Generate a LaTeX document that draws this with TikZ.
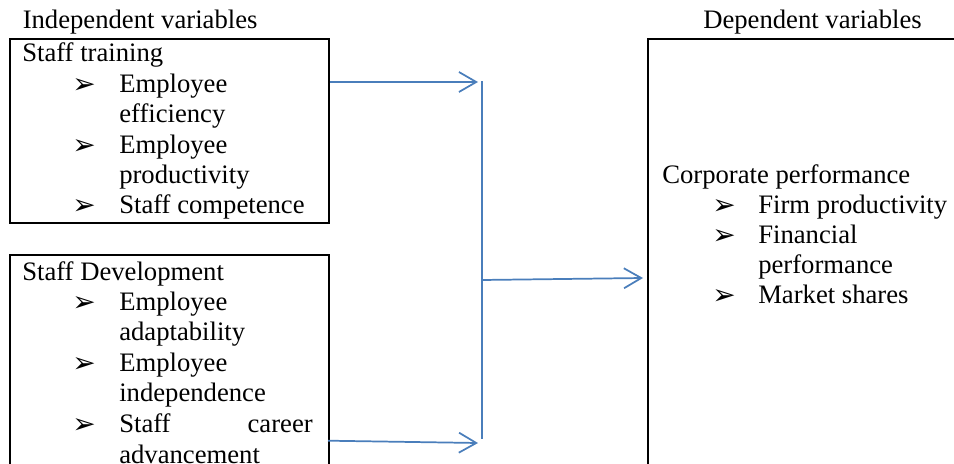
\documentclass[tikz,border=0pt]{standalone}
\usepackage{fontspec}
\setmainfont{Liberation Serif}
\newfontfamily\dingfont{DejaVu Sans}
\usetikzlibrary{arrows.meta}

\begin{document}
\begin{tikzpicture}[
	x=0.75pt, y=-0.75pt,
	caixa/.style={draw, line width=1.5pt, anchor=north west, inner sep=0pt},
	txt/.style={anchor=base west, inner sep=0pt, font=\fontsize{20}{22.5}\selectfont},
	bala/.style={anchor=base west, inner sep=0pt, font=\dingfont\fontsize{21}{21}\selectfont},
	seta/.style={draw={rgb,255:red,74;green,126;blue,187}, line width=1.3pt,
		-{Straight Barb[length=13pt, width=15pt]}},
	linha/.style={draw={rgb,255:red,74;green,126;blue,187}, line width=1.5pt}
	]
	\useasboundingbox (0,0) rectangle (954,464);
	\clip (0,0) rectangle (954,464);

	% titulos
	\node[txt] (indep) at (22.5,28.5) {Independent variables};
	\node[txt] (dep) at (703,28.5) {Dependent variables};

	% caixas
	\node[caixa, minimum width=239.25pt, minimum height=138.3pt] (treino) at (9,37.5) {};
	\node[caixa, minimum width=239.25pt, minimum height=180pt] (desenv) at (9,254) {};
	\node[caixa, minimum width=245pt, minimum height=335pt] (desemp) at (647,37.5) {};

	% Staff training
	\node[txt] (t0) at (22,61.7) {Staff training};
	\node[bala] (b1) at (72,93.5) {➢};
	\node[txt] (t1) at (119,92.3) {Employee};
	\node[txt] (t2) at (119,122.3) {efficiency};
	\node[bala] (b2) at (72,154.2) {➢};
	\node[txt] (t3) at (119,153) {Employee};
	\node[txt] (t4) at (119,183.3) {productivity};
	\node[bala] (b3) at (72,214.5) {➢};
	\node[txt] (t5) at (119,213.3) {Staff competence};

	% Staff Development
	\node[txt] (d0) at (22,280) {Staff Development};
	\node[bala] (b4) at (72,311.7) {➢};
	\node[txt] (d1) at (119,310.5) {Employee};
	\node[txt] (d2) at (119,340.5) {adaptability};
	\node[bala] (b5) at (72,372.2) {➢};
	\node[txt] (d3) at (119,371) {Employee};
	\node[txt] (d4) at (119,401.5) {independence};
	\node[bala] (b6) at (72,433.7) {➢};
	\node[txt] (d5) at (119,432.5) {Staff};
	\node[txt, anchor=base east] (d6) at (313,432.5) {career};
	\node[txt] (d7) at (119,463) {advancement};

	% Corporate performance
	\node[txt] (c0) at (662,183.5) {Corporate performance};
	\node[bala] (b7) at (712,214.7) {➢};
	\node[txt] (c1) at (758,213.5) {Firm productivity};
	\node[bala] (b8) at (712,244.7) {➢};
	\node[txt] (c2) at (758,243.5) {Financial};
	\node[txt] (c3) at (758,273.5) {performance};
	\node[bala] (b9) at (712,304.7) {➢};
	\node[txt] (c4) at (758,303.5) {Market shares};

	% setas
	\coordinate (topo) at (481.5,81);
	\coordinate (base) at (481.5,439);
	\coordinate (meio) at (481.5,280);
	\coordinate (fim1) at (478,82);
	\coordinate (ini2) at (328,440.7);
	\coordinate (fim2) at (478,443);
	\coordinate (fim3) at (643,278);

	\draw[linha] (topo) -- (base);
	\draw[seta] (treino.east |- fim1) -- (fim1);
	\draw[seta] (ini2) -- (fim2);
	\draw[seta] (meio) -- (fim3);
\end{tikzpicture}
\end{document}
